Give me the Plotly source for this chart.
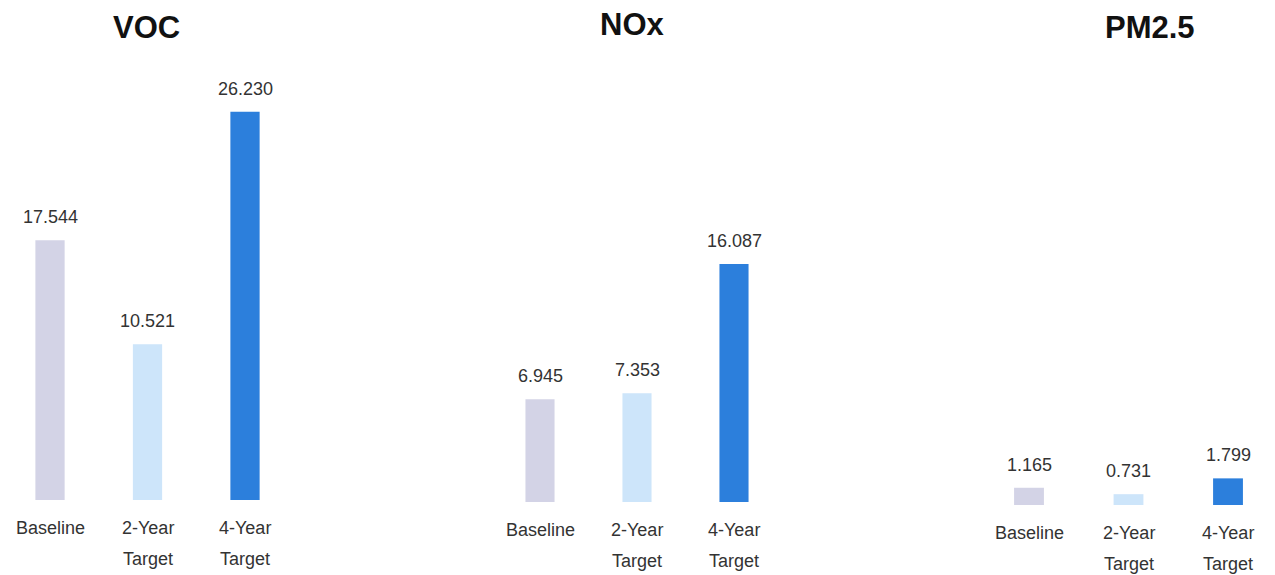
import plotly.graph_objects as go

pollutants = ["VOC", "NOx", "PM2.5"]
categories = ["Baseline", "2-Year Target", "4-Year Target"]
cat_line1 = ["Baseline", "2-Year", "4-Year"]
cat_line2 = ["", "Target", "Target"]
voc_values = [17.544, 10.521, 26.230]
nox_values = [6.945, 7.353, 16.087]
pm25_values = [1.165, 0.731, 1.799]
series_values = [voc_values, nox_values, pm25_values]
bar_colors = ["#D3D3E6", "#CDE5FA", "#2C7FDC"]

OFF = 8  # page body margin offset
W, H = 1275 - OFF, 575 - OFF
PX_PER_UNIT = 14.8
TOP_PX = 55 - OFF
# per panel (in screenshot pixels): domain [x0,x1], first-category centre, spacing, bottom
panels = [
    dict(x0=8, x1=320, c0=50, step=97.5, bottom=500, title_x=146, title_y=27),
    dict(x0=440, x1=800, c0=540, step=97.0, bottom=502, title_x=632, title_y=25),
    dict(x0=960, x1=1275, c0=1029, step=99.5, bottom=505, title_x=1150, title_y=27),
]

fig = go.Figure()
layout = dict(
    width=W, height=H,
    margin=dict(l=0, r=0, t=0, b=0),
    paper_bgcolor="white", plot_bgcolor="white",
    showlegend=False,
    font=dict(family="Liberation Sans, Arial, sans-serif", size=18, color="#333333"),
)
annotations = []
for i, (name, vals, p) in enumerate(zip(pollutants, series_values, panels)):
    sfx = "" if i == 0 else str(i + 1)
    xa, ya = "x" + sfx, "y" + sfx
    fig.add_trace(go.Bar(
        x=categories, y=vals, width=0.3,
        marker=dict(color=bar_colors, line=dict(width=0)),
        xaxis=xa, yaxis=ya, hoverinfo="x+y",
    ))
    x0 = p["x0"] - OFF
    x1 = min(p["x1"] - OFF, W)
    c0 = p["c0"] - OFF
    start = -(c0 - x0) / p["step"]
    end = start + (x1 - x0) / p["step"]
    layout["xaxis" + sfx] = dict(
        domain=[x0 / W, x1 / W], range=[start, end],
        type="category", categoryorder="array", categoryarray=categories,
        showticklabels=False, showgrid=False, zeroline=False, showline=False,
        anchor=ya,
    )
    bottom = p["bottom"] - OFF
    y0 = (H - bottom) / H
    ymax = (bottom - TOP_PX) / PX_PER_UNIT
    layout["yaxis" + sfx] = dict(
        domain=[y0, 1 - TOP_PX / H], range=[0, ymax],
        showticklabels=False, showgrid=False, zeroline=False, showline=False,
        anchor=xa,
    )
    annotations.append(dict(
        text="<b>%s</b>" % name, xref="paper", yref="paper",
        x=(p["title_x"] - OFF) / W, y=1 - (p["title_y"] - OFF) / H,
        xanchor="center", yanchor="middle", showarrow=False,
        font=dict(size=31, color="#111111",
                  family="Liberation Sans, Arial, sans-serif"),
    ))
    for cat, l1, l2, v in zip(categories, cat_line1, cat_line2, vals):
        annotations.append(dict(
            text="%.3f" % v, xref=xa, yref=ya, x=cat, y=v,
            xanchor="center", yanchor="middle", yshift=23, showarrow=False,
        ))
        annotations.append(dict(
            text=l1, xref=xa, yref=ya, x=cat, y=0,
            xanchor="center", yanchor="middle", yshift=-28, showarrow=False,
        ))
        if l2:
            annotations.append(dict(
                text=l2, xref=xa, yref=ya, x=cat, y=0,
                xanchor="center", yanchor="middle", yshift=-59, showarrow=False,
            ))
layout["annotations"] = annotations
fig.update_layout(**layout)
fig.write_html("out.html")
